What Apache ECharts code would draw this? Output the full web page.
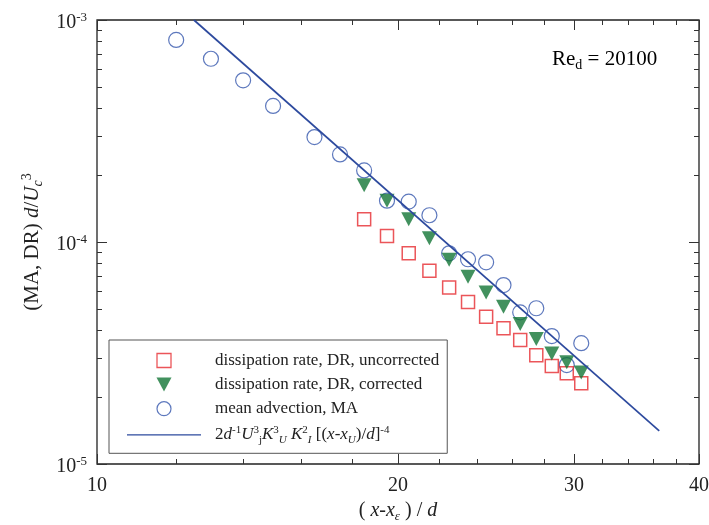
<!DOCTYPE html>
<html>
<head>
<meta charset="utf-8">
<script src="https://cdn.jsdelivr.net/npm/echarts@6/dist/echarts.min.js"></script>
<style>html,body{margin:0;padding:0;background:#fff}#c{width:709px;height:525px}</style>
</head>
<body>
<div id="c"></div>
<script>
// ---- data ----
const maX = [11, 12, 13, 14, 15, 16.5, 17.5, 18.5, 19.5, 20.5, 21.5, 22.5, 23.5, 24.5, 25.5, 26.5, 27.5, 28.5, 29.5, 30.5];
const maY = [1.07e-3, 8.13e-4, 6.69e-4, 5.35e-4, 4.10e-4, 2.97e-4, 2.48e-4, 2.10e-4, 1.535e-4, 1.52e-4, 1.32e-4, 8.89e-5, 8.36e-5, 8.10e-5, 6.40e-5, 4.82e-5, 5.03e-5, 3.77e-5, 2.79e-5, 3.50e-5];
const drX = [18.5, 19.5, 20.5, 21.5, 22.5, 23.5, 24.5, 25.5, 26.5, 27.5, 28.5, 29.5, 30.5];
const drCorr = [1.80e-4, 1.535e-4, 1.265e-4, 1.04e-4, 8.32e-5, 6.98e-5, 5.93e-5, 5.11e-5, 4.27e-5, 3.66e-5, 3.15e-5, 2.87e-5, 2.58e-5];
const drUncorr = [1.265e-4, 1.064e-4, 8.89e-5, 7.43e-5, 6.24e-5, 5.37e-5, 4.61e-5, 4.09e-5, 3.62e-5, 3.09e-5, 2.76e-5, 2.56e-5, 2.31e-5];
const fitX = [12.5, 36.5];
const fitY = [1.0e-3, 1.41e-5];

const xMajor = [10, 20, 30, 40];
const xMajorLabels = ['10', '20', '30', '40'];
const xMinor = [12, 14, 16, 18, 22, 24, 26, 28, 32, 34, 36, 38];
const yMajor = [1e-5, 1e-4, 1e-3];
const yMajorExp = ['-5', '-4', '-3'];
const yMinor = [2e-5, 3e-5, 4e-5, 5e-5, 6e-5, 7e-5, 8e-5, 9e-5, 2e-4, 3e-4, 4e-4, 5e-4, 6e-4, 7e-4, 8e-4, 9e-4];

const names = ['dissipation rate, DR, uncorrected', 'dissipation rate, DR, corrected', 'mean advection, MA', 'fit'];

// ---- helpers ----
const LOG = Math.log10;
const FONT = 'Liberation Serif';
const TXT = '#222';
const C_MA = '#3556ad', C_DR = '#e62a2f', C_DRC = '#137536', C_FIT = '#2d4a9e';
const pairs = (xs, ys) => xs.map((x, i) => [x, ys[i]]);
const near = (arr, v) => arr.findIndex(a => Math.abs(LOG(a) - v) < 1e-6);

const richBase = (fs) => ({
  n: {fontFamily: FONT, fontSize: fs, color: TXT, lineHeight: fs + 4},
  i: {fontFamily: FONT, fontSize: fs, color: TXT, fontStyle: 'italic', lineHeight: fs + 4},
  sup: {fontFamily: FONT, fontSize: Math.round(fs * 0.65), color: TXT, lineHeight: Math.round(fs * 0.7), verticalAlign: 'top'},
  sub: {fontFamily: FONT, fontSize: Math.round(fs * 0.65), color: TXT, lineHeight: Math.round(fs * 0.7), verticalAlign: 'bottom'},
  subi: {fontFamily: FONT, fontSize: Math.round(fs * 0.65), color: TXT, fontStyle: 'italic', lineHeight: Math.round(fs * 0.7), verticalAlign: 'bottom'}
});

function tickAxis(dim, pos, vals, len, withLabels, extra) {
  const isX = dim === 'x';
  const ax = {
    type: 'value',
    min: isX ? LOG(10) : LOG(1e-5),
    max: isX ? LOG(40) : LOG(1e-3),
    position: pos,
    axisLine: {show: false, onZero: false},
    splitLine: {show: false},
    axisTick: {show: true, inside: true, length: len, customValues: vals.map(LOG), lineStyle: {color: '#333', width: 1}},
    axisLabel: {show: false}
  };
  if (withLabels) {
    if (isX) {
      ax.axisLabel = {
        show: true, customValues: vals.map(LOG), margin: 12,
        fontFamily: FONT, fontSize: 20, color: TXT,
        formatter: v => xMajorLabels[near(xMajor, v)]
      };
    } else {
      ax.axisLabel = {
        show: true, customValues: vals.map(LOG), margin: 10, padding: [6, 0, 0, 0],
        formatter: v => '{b|10}{s|' + yMajorExp[near(yMajor, v)] + '}',
        rich: {
          b: {fontFamily: FONT, fontSize: 20, color: TXT, lineHeight: 24},
          s: {fontFamily: FONT, fontSize: 13, color: TXT, lineHeight: 14, verticalAlign: 'top'}
        }
      };
    }
  }
  return Object.assign(ax, extra || {});
}

const legendRich = richBase(17);
function legendFmt(name) {
  if (name === 'fit') {
    return '{n|2}{i|d}{sup|-1}{i|U}{sup|3}{sub|j}{i|K}{sup|3}{subi|U}{n| }{i|K}{sup|2}{subi|I}{n| [(}{i|x}{n|-}{i|x}{subi|U}{n|)/}{i|d}{n|]}{sup|-4}';
  }
  return '{n|' + name + '}';
}

const chart = echarts.init(document.getElementById('c'), null, {renderer: 'canvas'});
const option = {
  backgroundColor: '#fff',
  animation: false,
  grid: {left: 97, right: 10, top: 20, bottom: 61, containLabel: false, outerBoundsMode: 'none',
         show: true, borderColor: '#222', borderWidth: 1.3, backgroundColor: 'transparent'},
  xAxis: [
    {type: 'log', logBase: 10, min: 10, max: 40, position: 'bottom',
     axisLine: {show: false, onZero: false}, axisTick: {show: false}, axisLabel: {show: false},
     splitLine: {show: false}, minorTick: {show: false}},
    tickAxis('x', 'bottom', xMajor, 10, true, {
      name: '{n|( }{i|x}{n|-}{i|x}{subi|ε}{n| ) / }{i|d}', nameLocation: 'middle', nameGap: 33,
      nameTextStyle: {rich: richBase(20)}
    }),
    tickAxis('x', 'bottom', xMinor, 5, false),
    tickAxis('x', 'top', xMajor, 10, false),
    tickAxis('x', 'top', xMinor, 5, false)
  ],
  yAxis: [
    {type: 'log', logBase: 10, min: 1e-5, max: 1e-3, position: 'left',
     axisLine: {show: false, onZero: false}, axisTick: {show: false}, axisLabel: {show: false},
     splitLine: {show: false}, minorTick: {show: false}},
    tickAxis('y', 'left', yMajor, 10, true, {
      name: '{n|(MA, DR) }{i|d}{n|/}{i|U}{subi|c}{sup|3}', nameLocation: 'middle', nameGap: 52, nameRotate: 90,
      nameTextStyle: {rich: richBase(21)}
    }),
    tickAxis('y', 'left', yMinor, 5, false),
    tickAxis('y', 'right', yMajor, 10, false),
    tickAxis('y', 'right', yMinor, 5, false)
  ],
  legend: {
    orient: 'vertical', left: 109, top: 340,
    itemWidth: 74, itemHeight: 14, itemGap: 7.1,
    padding: [12, 8, 8, 18],
    borderColor: '#555', borderWidth: 1, backgroundColor: '#fff',
    selectedMode: false,
    symbolKeepAspect: true,
    data: [
      {name: names[0], icon: 'path://M0,0L13,0L13,13L0,13Z', itemStyle: {color: 'rgba(0,0,0,0)', borderColor: C_DR, borderWidth: 1.3}},
      {name: names[1], icon: 'path://M0,0L15,0L7.5,14Z', itemStyle: {color: C_DRC, borderWidth: 0}},
      {name: names[2], icon: 'circle', itemStyle: {color: 'rgba(0,0,0,0)', borderColor: C_MA, borderWidth: 1.2}},
      {name: names[3], icon: 'path://M0,0L74,0L74,1.3L0,1.3Z', itemStyle: {color: C_FIT, borderWidth: 0}}
    ],
    formatter: legendFmt,
    textStyle: {fontFamily: FONT, fontSize: 17, color: TXT, padding: [0, 0, 0, 9], rich: legendRich}
  },
  graphic: [{
    type: 'text', left: 552, top: 49, z: 10,
    style: {text: '{n|Re}{sub|d}{n| = 20100}', rich: richBase(21), fontFamily: FONT}
  }],
  series: [
    {name: names[2], type: 'scatter', xAxisIndex: 0, yAxisIndex: 0, data: pairs(maX, maY),
     symbol: 'circle', symbolSize: 15, z: 2,
     itemStyle: {color: 'rgba(0,0,0,0)', borderColor: C_MA, borderWidth: 1.2}},
    {name: names[0], type: 'scatter', xAxisIndex: 0, yAxisIndex: 0, data: pairs(drX, drUncorr),
     symbol: 'rect', symbolSize: 13, z: 3,
     itemStyle: {color: 'rgba(0,0,0,0)', borderColor: C_DR, borderWidth: 1.5}},
    {name: names[1], type: 'scatter', xAxisIndex: 0, yAxisIndex: 0, data: pairs(drX, drCorr),
     symbol: 'triangle', symbolRotate: 180, symbolSize: [15, 14], z: 4,
     itemStyle: {color: C_DRC}},
    {name: names[3], type: 'line', xAxisIndex: 0, yAxisIndex: 0, data: pairs(fitX, fitY),
     symbol: 'none', z: 5,
     lineStyle: {color: C_FIT, width: 1.7}}
  ]
};
chart.setOption(option);
</script>
</body>
</html>
